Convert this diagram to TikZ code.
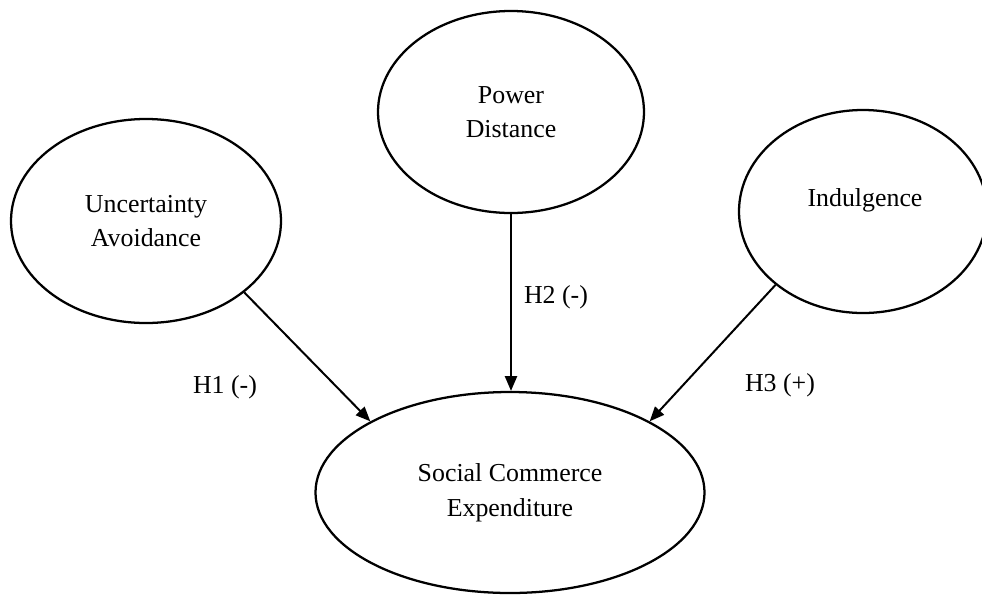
\documentclass[tikz,border=0pt]{standalone}
\usepackage{fontspec}
\setmainfont{Liberation Serif}
\usetikzlibrary{arrows.meta,shapes.geometric}
\begin{document}
\begin{tikzpicture}[x=0.75pt,y=-0.75pt,
  latent/.style={draw,ellipse,line width=1.7pt,inner sep=0pt,align=center,font=\fontsize{19.4}{26}\selectfont},
  hpath/.style={line width=1.5pt,-{Triangle[length=11pt,width=9pt]}},
  hyp/.style={font=\fontsize{19.4}{26}\selectfont,inner sep=0pt}]
\useasboundingbox (0,0) rectangle (982,597);
\node[latent,minimum width=202.5pt,minimum height=153pt] (ua) at (146,221) {Uncertainty\\Avoidance};
\node[latent,minimum width=199.5pt,minimum height=151.5pt] (pd) at (511,112) {Power\\Distance};
\node[latent,minimum width=186pt,minimum height=152.25pt] (ind) at (863,211.5) {};
\node[hyp] (indtext) at (865,200) {Indulgence};
\node[latent,minimum width=291.75pt,minimum height=150.75pt] (sce) at (510,492.5) {Social Commerce\\Expenditure};
\draw[hpath] (ua.-36.9) -- (sce.153.2);
\draw[hpath] (pd.south) -- (pd.south |- sce.north);
\draw[hpath] (ind.-140.1) -- (sce.27);
\node[hyp] (h1) at (225,387) {H1 (-)};
\node[hyp] (h2) at (556,297) {H2 (-)};
\node[hyp] (h3) at (780,385) {H3 (+)};
\end{tikzpicture}
\end{document}
